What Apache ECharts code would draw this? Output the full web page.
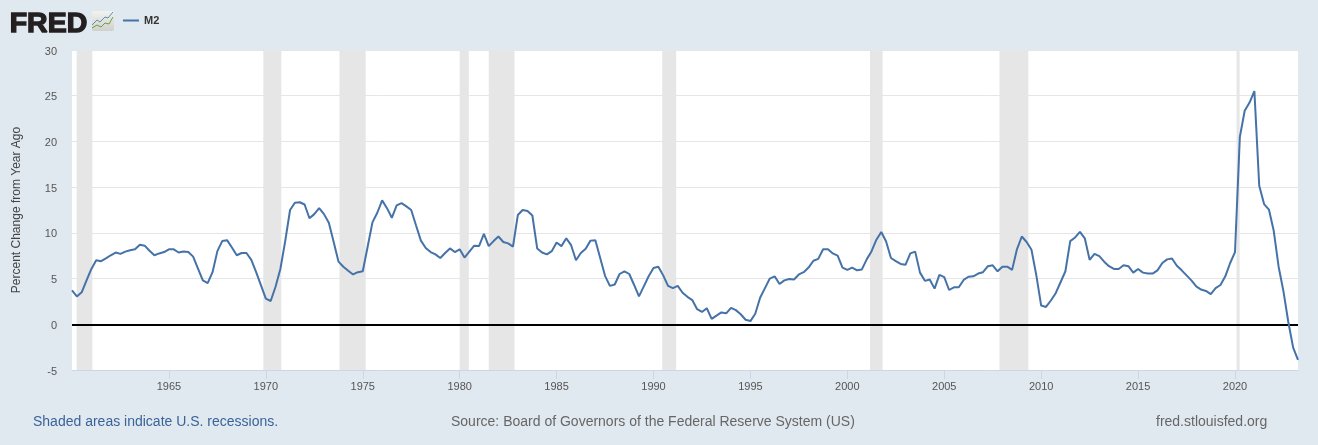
<!DOCTYPE html>
<html>
<head>
<meta charset="utf-8">
<title>FRED M2</title>
<script src="https://cdn.jsdelivr.net/npm/echarts@6/dist/echarts.min.js"></script>
<style>
  html, body { margin: 0; padding: 0; background: #e1e9f0; }
  #chart { width: 1318px; height: 445px; }
</style>
</head>
<body>
<div id="chart"></div>
<script>
// M2, percent change from year ago, quarterly from 1960 Q1
const m2Values = [
  3.7, 3.05, 3.5, 4.8, 6.05, 7.0, 6.9, 7.2, 7.55, 7.85,
  7.7, 7.95, 8.1, 8.2, 8.7, 8.6, 8.05, 7.55, 7.75, 7.9,
  8.2, 8.2, 7.85, 7.95, 7.9, 7.4, 6.1, 4.8, 4.5, 5.7,
  8.0, 9.1, 9.2, 8.4, 7.55, 7.8, 7.8, 7.05, 5.7, 4.25,
  2.8, 2.55, 4.1, 6.05, 9.1, 12.5, 13.3, 13.35, 13.1, 11.6,
  12.05, 12.7, 12.05, 11.1, 9.0, 6.85, 6.3, 5.85, 5.45, 5.7,
  5.8, 8.45, 11.15, 12.2, 13.55, 12.7, 11.65, 13.0, 13.25, 12.9,
  12.5, 10.8, 9.15, 8.35, 7.9, 7.65, 7.25, 7.8, 8.3, 7.9,
  8.2, 7.3, 7.95, 8.6, 8.55, 9.9, 8.55, 9.1, 9.6, 9.0,
  8.85, 8.5, 11.95, 12.5, 12.4, 11.9, 8.3, 7.85, 7.65, 8.0,
  8.95, 8.55, 9.4, 8.65, 7.0, 7.8, 8.25, 9.15, 9.2, 7.25,
  5.3, 4.2, 4.35, 5.5, 5.8, 5.5, 4.3, 3.05, 4.15, 5.25,
  6.15, 6.3, 5.35, 4.2, 3.95, 4.2, 3.45, 3.0, 2.65, 1.65,
  1.35, 1.75, 0.6, 0.95, 1.3, 1.2, 1.8, 1.55, 1.1, 0.5,
  0.35, 1.15, 2.9, 3.95, 5.0, 5.25, 4.4, 4.8, 4.95, 4.9,
  5.45, 5.7, 6.2, 6.95, 7.15, 8.2, 8.2, 7.75, 7.5, 6.2,
  5.95, 6.2, 5.9, 6.0, 7.1, 8.0, 9.25, 10.1, 9.05, 7.25,
  6.9, 6.6, 6.5, 7.75, 7.95, 5.65, 4.75, 4.9, 3.9, 5.4,
  5.15, 3.75, 4.05, 4.05, 4.85, 5.2, 5.25, 5.55, 5.7, 6.35,
  6.45, 5.8, 6.3, 6.3, 5.95, 8.2, 9.6, 9.0, 8.15, 5.35,
  2.05, 1.9, 2.6, 3.4, 4.6, 5.8, 9.1, 9.5, 10.1, 9.4,
  7.05, 7.7, 7.45, 6.85, 6.35, 6.05, 6.05, 6.45, 6.35, 5.65,
  6.05, 5.65, 5.55, 5.55, 5.9, 6.7, 7.1, 7.2, 6.4, 5.9,
  5.35, 4.8, 4.15, 3.8, 3.65, 3.3, 3.95, 4.3, 5.25, 6.7,
  7.9, 20.5, 23.35, 24.25, 25.5, 15.15, 13.15, 12.55, 10.2, 6.3,
  3.6, 0.25, -2.55, -3.9
]
const firstYear = 1960
const lastYear = 2023.25
const yearTicks = [1965, 1970, 1975, 1980, 1985, 1990, 1995, 2000, 2005, 2010, 2015, 2020]

// Recessions, start and end in decimal years
const recessionStart = [1960.24, 1969.87, 1973.8, 1980.0, 1981.5, 1990.45, 2001.17, 2007.85, 2020.08]
const recessionEnd = [1961.05, 1970.8, 1975.15, 1980.47, 1982.83, 1991.17, 2001.82, 2009.34, 2020.24]

const chart = echarts.init(document.getElementById('chart'))
const fontFamily = '"Liberation Sans", Arial, sans-serif'

const option = {
  animation: false,
  backgroundColor: '#e1e9f0',
  textStyle: { fontFamily },
  grid: {
    left: 72,
    right: 20,
    top: 50,
    bottom: 75,
    show: true,
    backgroundColor: '#fff',
    borderWidth: 0
  },
  legend: {
    left: 123,
    top: 15,
    padding: 0,
    itemWidth: 16,
    itemHeight: 2,
    itemGap: 0,
    data: [{ name: 'M2', icon: 'rect' }],
    textStyle: { color: '#333', fontSize: 11, fontWeight: 'bold', padding: [0, 0, 0, 0] }
  },
  xAxis: {
    type: 'value',
    min: firstYear,
    max: lastYear,
    interval: 5,
    splitLine: { show: false },
    axisLine: { onZero: false, lineStyle: { color: '#ccd6eb' } },
    axisTick: { length: 9, lineStyle: { color: '#ccd6eb' }, customValues: yearTicks },
    axisLabel: {
      color: '#555',
      fontSize: 11,
      margin: 11,
      customValues: yearTicks,
      formatter: (v) => String(v)
    }
  },
  yAxis: {
    type: 'value',
    min: -5,
    max: 30,
    interval: 5,
    name: 'Percent Change from Year Ago',
    nameLocation: 'middle',
    nameGap: 49,
    nameTextStyle: { color: '#444', fontSize: 12 },
    splitLine: { lineStyle: { color: '#e6e6e6', width: 1 } },
    axisLine: { show: false },
    axisTick: { show: false },
    axisLabel: { color: '#555', fontSize: 11, margin: 15, verticalAlign: 'top', lineHeight: 11, padding: [-4, 0, 0, 0] }
  },
  series: [
    {
      name: 'M2',
      type: 'line',
      z: 3,
      data: m2Values.map((v, i) => [firstYear + i / 4, v]),
      showSymbol: false,
      symbol: 'none',
      lineStyle: { color: '#4572a7', width: 2 },
      itemStyle: { color: '#4572a7' },
      markArea: {
        silent: true,
        z: 1,
        itemStyle: { color: '#e6e6e6' },
        data: recessionStart.map((s, i) => [{ xAxis: s }, { xAxis: recessionEnd[i] }])
      },
      markLine: {
        silent: true,
        z: 2,
        symbol: 'none',
        label: { show: false },
        lineStyle: { color: '#000', width: 2, type: 'solid' },
        data: [{ yAxis: 0 }]
      }
    }
  ],
  graphic: [
    // FRED logo
    {
      type: 'text',
      left: 9,
      top: 9,
      style: {
        text: 'FRED',
        fill: '#231f20',
        stroke: '#231f20',
        lineWidth: 1.4,
        font: 'bold 28.5px "Liberation Sans", Arial, sans-serif'
      }
    },
    {
      type: 'rect',
      shape: { x: 92, y: 11, width: 22, height: 20, r: 2 },
      style: {
        fill: new echarts.graphic.LinearGradient(0, 0, 0, 1, [
          { offset: 0, color: '#f2f2f0' },
          { offset: 1, color: '#cfcfcb' }
        ])
      }
    },
    {
      type: 'polyline',
      shape: { points: [[92, 25], [97, 20], [100, 22], [105, 17], [108, 18], [113, 12]] },
      style: { stroke: '#5f8db0', lineWidth: 1, fill: 'none' }
    },
    {
      type: 'polyline',
      shape: { points: [[92, 28], [97, 25], [101, 27], [105, 23], [109, 24], [113, 17]] },
      style: { stroke: '#6f9e3f', lineWidth: 1, fill: 'none' }
    },
    // footer
    {
      type: 'text',
      left: 33,
      top: 415,
      style: {
        text: 'Shaded areas indicate U.S. recessions.',
        fill: '#3a6399',
        font: '14px "Liberation Sans", Arial, sans-serif'
      }
    },
    {
      type: 'text',
      left: 451,
      top: 415,
      style: {
        text: 'Source: Board of Governors of the Federal Reserve System (US)',
        fill: '#666',
        font: '14px "Liberation Sans", Arial, sans-serif'
      }
    },
    {
      type: 'text',
      left: 1156,
      top: 415,
      style: {
        text: 'fred.stlouisfed.org',
        fill: '#666',
        font: '14px "Liberation Sans", Arial, sans-serif'
      }
    }
  ]
}

chart.setOption(option)
</script>
</body>
</html>
